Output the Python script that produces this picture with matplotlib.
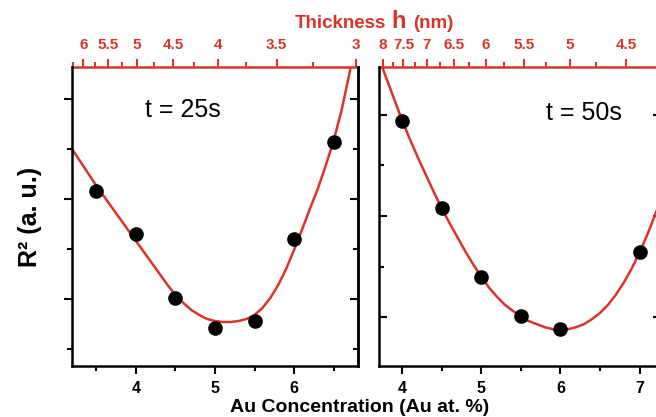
import numpy as np
import matplotlib
matplotlib.use('Agg')
import matplotlib.pyplot as plt
from matplotlib.ticker import FixedLocator, MultipleLocator

plt.rcParams['font.family'] = ['Liberation Sans', 'DejaVu Sans']

red = '#d9342b'

# t = 25 s : measured points and fit curve (R^2 in arbitrary units)
conc_25 = [3.5, 4.0, 4.5, 5.0, 5.5, 6.0, 6.5]
r2_25 = [2.08, 1.65, 1.01, 0.71, 0.78, 1.60, 2.57]
fit_conc_25 = [3.19, 3.3, 3.4, 3.5, 3.6, 3.7, 3.8, 3.9, 4.0, 4.1, 4.2, 4.3,
               4.4, 4.5, 4.6, 4.7, 4.8, 4.9, 5.0, 5.1, 5.2, 5.3, 5.4, 5.5,
               5.6, 5.7, 5.8, 5.9, 6.0, 6.1, 6.2, 6.3, 6.4, 6.5, 6.6, 6.7,
               6.73]
fit_r2_25 = [2.50, 2.37, 2.25, 2.13, 2.02, 1.91, 1.80, 1.69, 1.58, 1.47, 1.36,
             1.25, 1.14, 1.04, 0.96, 0.89, 0.84, 0.80, 0.78, 0.77, 0.77, 0.78,
             0.80, 0.84, 0.91, 1.01, 1.14, 1.30, 1.49, 1.69, 1.90, 2.10, 2.33,
             2.58, 2.88, 3.25, 3.37]

# t = 50 s
conc_50 = [4.0, 4.5, 5.0, 5.5, 6.0, 7.0]
r2_50 = [2.94, 2.08, 1.40, 1.01, 0.88, 1.64]
fit_conc_50 = [3.72, 3.8, 3.9, 4.0, 4.1, 4.2, 4.3, 4.4, 4.5, 4.6, 4.7, 4.8,
               4.9, 5.0, 5.1, 5.2, 5.3, 5.4, 5.5, 5.6, 5.7, 5.8, 5.9, 6.0,
               6.1, 6.2, 6.3, 6.4, 6.5, 6.6, 6.7, 6.8, 6.9, 7.0, 7.1, 7.2,
               7.3]
fit_r2_50 = [3.54, 3.37, 3.16, 2.95, 2.76, 2.58, 2.41, 2.24, 2.08, 1.93, 1.79,
             1.65, 1.52, 1.40, 1.29, 1.20, 1.12, 1.06, 1.01, 0.96, 0.93, 0.90,
             0.88, 0.87, 0.88, 0.90, 0.93, 0.98, 1.04, 1.12, 1.22, 1.34, 1.48,
             1.64, 1.82, 2.02, 2.24]

# thickness axis h = a / c + b for each panel
thick_25 = (19.66, 0.10)
thick_50 = (29.3, 0.21)
h_major_25 = [6, 5.5, 5, 4.5, 4, 3.5, 3]
h_minor_25 = [6.25, 5.75, 5.25, 4.75, 4.25, 3.75, 3.25]
h_major_50 = [8, 7.5, 7, 6.5, 6, 5.5, 5, 4.5]
h_minor_50 = [7.75, 7.25, 6.75, 6.25, 5.75, 5.25, 4.75]

fig = plt.figure(figsize=(6.56, 4.17), dpi=100)
ax1 = fig.add_axes([72 / 656, 1 - 366 / 417, 286 / 656, 299 / 417])
ax2 = fig.add_axes([379 / 656, 1 - 366 / 417, 282 / 656, 299 / 417])

panels = [
    (ax1, conc_25, r2_25, fit_conc_25, fit_r2_25, (3.19, 6.81), (0.33, 3.32),
     thick_25, h_major_25, h_minor_25, 't = 25s', (183, 110)),
    (ax2, conc_50, r2_50, fit_conc_50, fit_r2_50, (3.71, 7.27), (0.515, 3.475),
     thick_50, h_major_50, h_minor_50, 't = 50s', (584, 113)),
]

for ax, cx, cy, fx, fy, xl, yl, (a, b), hmaj, hmin, lab, pos in panels:
    ax.plot(fx, fy, color=red, lw=1.8, zorder=2, solid_joinstyle='round')
    ax.plot(cx, cy, 'o', color='black', ms=9.5, zorder=3)
    ax.set_xlim(*xl)
    ax.set_ylim(*yl)
    ax.xaxis.set_major_locator(MultipleLocator(1))
    ax.xaxis.set_minor_locator(MultipleLocator(0.5))
    ax.yaxis.set_major_locator(MultipleLocator(1))
    ax.yaxis.set_minor_locator(MultipleLocator(0.5))
    for s in ['left', 'right', 'bottom']:
        ax.spines[s].set_linewidth(1.8)
    ax.spines['top'].set_visible(False)
    ax.tick_params(axis='x', which='both', direction='out', top=False,
                   width=1.5, pad=5, labelsize=11.5)
    ax.tick_params(axis='x', which='major', length=5.5)
    ax.tick_params(axis='x', which='minor', length=3.5)
    for t in ax.get_xticklabels():
        t.set_fontweight('bold')
    ax.tick_params(axis='y', which='both', labelleft=False, width=1.5)
    ax.tick_params(axis='y', which='major', length=5.5)
    ax.tick_params(axis='y', which='minor', length=3.5)

    sec = ax.secondary_xaxis('top', functions=(
        lambda c, a=a, b=b: a / np.asarray(c, dtype=float) + b,
        lambda h, a=a, b=b: a / (np.asarray(h, dtype=float) - b)))
    sec.xaxis.set_major_locator(FixedLocator(hmaj))
    sec.xaxis.set_minor_locator(FixedLocator(hmin))
    sec.spines['top'].set_color(red)
    sec.spines['top'].set_linewidth(1.8)
    sec.tick_params(which='both', colors=red, width=1.5, labelsize=11, pad=5)
    sec.tick_params(which='major', length=5.5)
    sec.tick_params(which='minor', length=3.5)
    sec.set_xticks(hmaj, [('%g' % h) for h in hmaj], fontweight='bold')

    fig.text(pos[0] / 656, 1 - pos[1] / 417, lab, fontsize=18,
             ha='center', va='center')

ax1.tick_params(axis='y', which='both', direction='out', left=True, right=False)
right1 = ax1.secondary_yaxis('right')
right1.yaxis.set_major_locator(MultipleLocator(1))
right1.yaxis.set_minor_locator(MultipleLocator(0.5))
right1.spines['right'].set_linewidth(1.8)
right1.tick_params(which='both', direction='in', labelright=False, width=1.5)
right1.tick_params(which='major', length=5.5)
right1.tick_params(which='minor', length=3.5)

ax2.tick_params(axis='y', which='both', direction='in', left=True, right=True)

fig.text(30 / 656, 1 - 217 / 417, 'R² (a. u.)', rotation=90, fontsize=18,
         fontweight='bold', ha='center', va='center')
fig.text(360 / 656, 1 - 408 / 417, 'Au Concentration (Au at. %)',
         fontsize=14, fontweight='bold', ha='center', va='center')

fig.text(386 / 656, 1 - 28 / 417, 'Thickness', color=red, fontsize=13.5,
         fontweight='bold', ha='right', va='baseline')
fig.text(399 / 656, 1 - 28 / 417, 'h', color=red, fontsize=17,
         fontweight='bold', ha='center', va='baseline')
fig.text(413 / 656, 1 - 28 / 417, '(nm)', color=red, fontsize=13.5,
         fontweight='bold', ha='left', va='baseline')

fig.savefig('out.png', dpi=100)
